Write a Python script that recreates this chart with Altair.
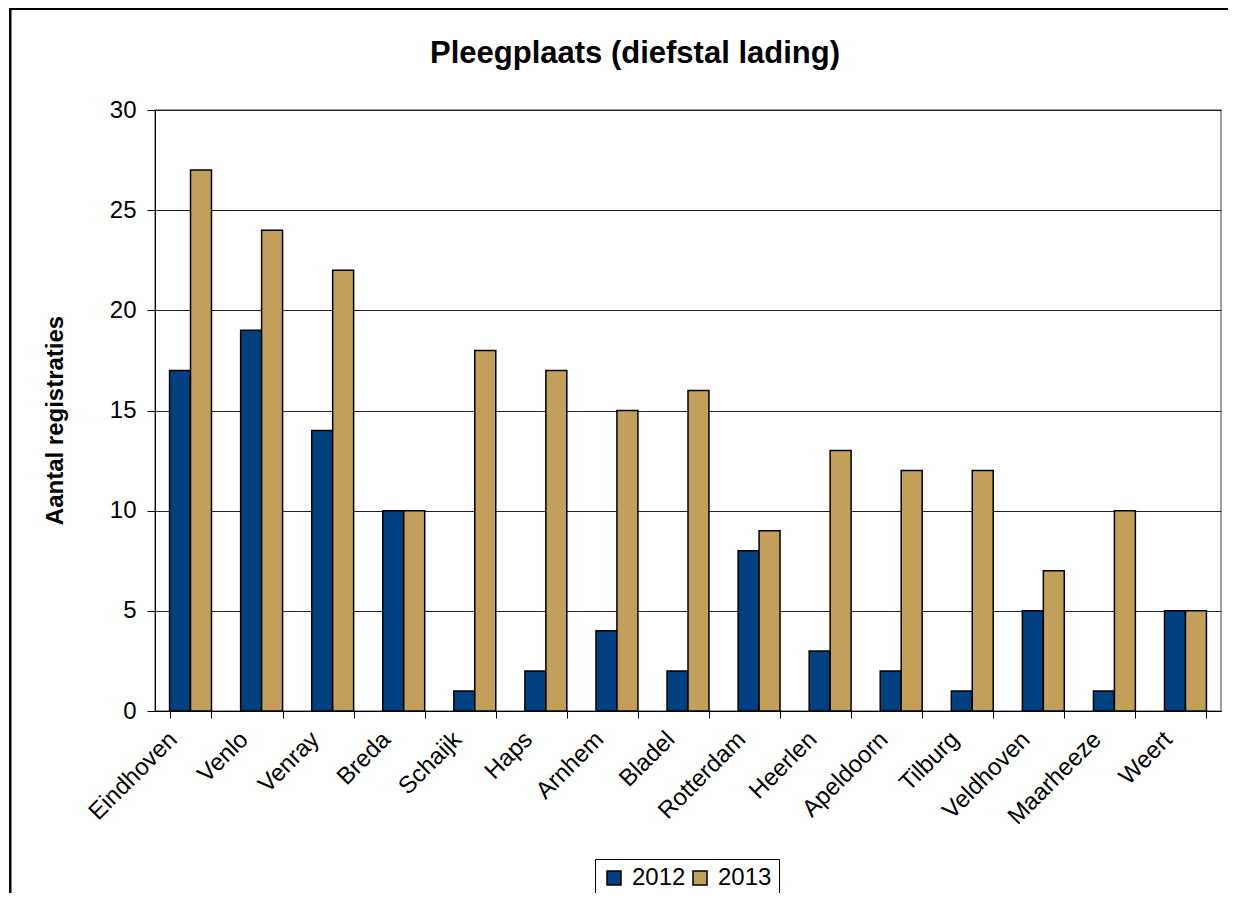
import altair as alt
import pandas as pd

cities = ["Eindhoven", "Venlo", "Venray", "Breda", "Schaijk", "Haps", "Arnhem",
          "Bladel", "Rotterdam", "Heerlen", "Apeldoorn", "Tilburg", "Veldhoven",
          "Maarheeze", "Weert"]
years = ["2012", "2013"]
v2012 = [17, 19, 14, 10, 1, 2, 4, 2, 8, 3, 2, 1, 5, 1, 5]
v2013 = [27, 24, 22, 10, 18, 17, 15, 16, 9, 13, 12, 12, 7, 10, 5]
y_ticks = [0, 5, 10, 15, 20, 25, 30]

rows = []
for c, a, b in zip(cities, v2012, v2013):
    rows.append({"plaats": c, "jaar": "2012", "aantal": a})
    rows.append({"plaats": c, "jaar": "2013", "aantal": b})
df = pd.DataFrame(rows)

FONT = "Liberation Sans"
W, H = 1066, 601
PAD = {"left": 147, "top": 102, "right": 7, "bottom": 182}

bars = alt.Chart(df).mark_bar(stroke="black", strokeWidth=1.5).encode(
    x=alt.X("plaats:N", sort=cities,
            scale=alt.Scale(paddingInner=0.41, paddingOuter=0.205),
            axis=alt.Axis(title=None, labelAngle=-45, labelAlign="right",
                          labelBaseline="top", labelFontSize=24, labelFont=FONT,
                          labelColor="black", labelPadding=9, labelOffset=-26,
                          tickBand="extent", tickSize=7, tickColor="black",
                          domainColor="black", grid=False)),
    xOffset=alt.XOffset("jaar:N", sort=years),
    y=alt.Y("aantal:Q", scale=alt.Scale(domain=[0, 30], nice=False),
            axis=alt.Axis(title="Aantal registraties", values=y_ticks,
                          titleFont=FONT, titleFontSize=24, titleFontWeight="bold",
                          titleColor="black", titleAngle=-90, titleX=-100, titleY=310,
                          titleBaseline="middle", titleAlign="center",
                          labelFontSize=24, labelFont=FONT, labelColor="black",
                          labelPadding=11, tickSize=8, tickColor="black",
                          domainColor="black", gridColor="#222222", gridWidth=1)),
    color=alt.Color("jaar:N", sort=years,
                    scale=alt.Scale(domain=years, range=["#004080", "#c2a05c"]),
                    legend=alt.Legend(title=None, orient="none", legendX=440, legendY=749,
                                      direction="horizontal", strokeColor="black",
                                      fillColor="white", padding=7, symbolType="square",
                                      symbolSize=196, symbolStrokeColor="black",
                                      symbolStrokeWidth=1.5, labelFontSize=24,
                                      labelFont=FONT, labelColor="black",
                                      columnPadding=2, labelOffset=6)),
)

# outer chart frame (left and top edges; the others fall outside the picture)
frame_df = pd.DataFrame({"k": [0]})
top_edge = alt.Chart(frame_df).mark_rect(fill="black", strokeWidth=0).encode(
    x=alt.value(-146), x2=alt.value(W + PAD["right"]),
    y=alt.value(-102.5), y2=alt.value(-100)
)
left_edge = alt.Chart(frame_df).mark_rect(fill="black", strokeWidth=0).encode(
    x=alt.value(-146), x2=alt.value(-143.5),
    y=alt.value(-102.5), y2=alt.value(H + PAD["bottom"])
)

chart = alt.layer(top_edge, left_edge, bars).properties(
    width=W, height=H,
    title=alt.Title("Pleegplaats (diefstal lading)", font=FONT, fontSize=31,
                    fontWeight="bold", color="black", anchor="middle", dx=-53,
                    baseline="alphabetic", offset=0, dy=86),
    autosize=alt.AutoSizeParams(type="none"),
    padding=PAD,
).configure_view(stroke="#808080", strokeWidth=1.5)

chart.save("out.html", embed_options={"renderer": "svg", "actions": False})
